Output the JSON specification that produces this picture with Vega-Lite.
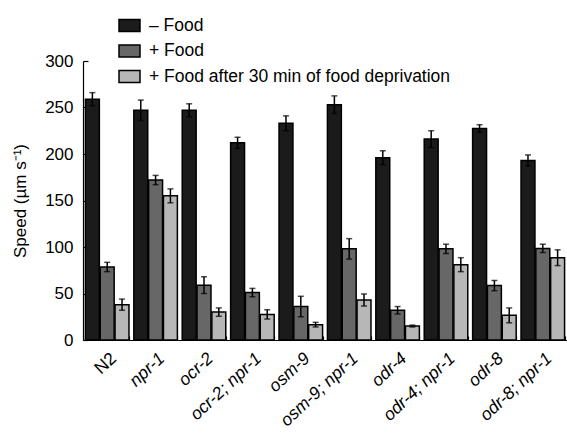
{
  "$schema": "https://vega.github.io/schema/vega-lite/v6.json",
  "width": 484,
  "height": 279,
  "autosize": {"type": "none"},
  "padding": {"left": 83, "top": 61, "right": 0, "bottom": 93},
  "background": "white",
  "config": {"font": "Liberation Sans", "view": {"stroke": null}},
  "data": {
    "values": [
      {"strain": "N2", "cond": "– Food", "value": 259, "lo": 252, "hi": 266},
      {"strain": "N2", "cond": "+ Food", "value": 78.5, "lo": 73.5, "hi": 83.5},
      {"strain": "N2", "cond": "+ Food after 30 min of food deprivation", "value": 38, "lo": 32, "hi": 44},
      {"strain": "npr-1", "cond": "– Food", "value": 247, "lo": 236, "hi": 258},
      {"strain": "npr-1", "cond": "+ Food", "value": 172, "lo": 167, "hi": 177},
      {"strain": "npr-1", "cond": "+ Food after 30 min of food deprivation", "value": 155, "lo": 147.5, "hi": 162.5},
      {"strain": "ocr-2", "cond": "– Food", "value": 247, "lo": 240, "hi": 254},
      {"strain": "ocr-2", "cond": "+ Food", "value": 59, "lo": 50, "hi": 68},
      {"strain": "ocr-2", "cond": "+ Food after 30 min of food deprivation", "value": 30, "lo": 25.5, "hi": 34.5},
      {"strain": "ocr-2; npr-1", "cond": "– Food", "value": 212, "lo": 206, "hi": 218},
      {"strain": "ocr-2; npr-1", "cond": "+ Food", "value": 51, "lo": 46.5, "hi": 55.5},
      {"strain": "ocr-2; npr-1", "cond": "+ Food after 30 min of food deprivation", "value": 27.5, "lo": 22.5, "hi": 32.5},
      {"strain": "osm-9", "cond": "– Food", "value": 233, "lo": 225, "hi": 241},
      {"strain": "osm-9", "cond": "+ Food", "value": 36, "lo": 25, "hi": 47},
      {"strain": "osm-9", "cond": "+ Food after 30 min of food deprivation", "value": 16.5, "lo": 14, "hi": 19},
      {"strain": "osm-9; npr-1", "cond": "– Food", "value": 253, "lo": 243.5, "hi": 262.5},
      {"strain": "osm-9; npr-1", "cond": "+ Food", "value": 98, "lo": 87, "hi": 109},
      {"strain": "osm-9; npr-1", "cond": "+ Food after 30 min of food deprivation", "value": 43, "lo": 36.5, "hi": 49.5},
      {"strain": "odr-4", "cond": "– Food", "value": 196, "lo": 188.5, "hi": 203.5},
      {"strain": "odr-4", "cond": "+ Food", "value": 32, "lo": 28, "hi": 36},
      {"strain": "odr-4", "cond": "+ Food after 30 min of food deprivation", "value": 15, "lo": 14, "hi": 16},
      {"strain": "odr-4; npr-1", "cond": "– Food", "value": 216, "lo": 207, "hi": 225},
      {"strain": "odr-4; npr-1", "cond": "+ Food", "value": 98, "lo": 93, "hi": 103},
      {"strain": "odr-4; npr-1", "cond": "+ Food after 30 min of food deprivation", "value": 81, "lo": 73.5, "hi": 88.5},
      {"strain": "odr-8", "cond": "– Food", "value": 227.5, "lo": 223.5, "hi": 231.5},
      {"strain": "odr-8", "cond": "+ Food", "value": 58.5, "lo": 53, "hi": 64},
      {"strain": "odr-8", "cond": "+ Food after 30 min of food deprivation", "value": 26.5, "lo": 18.5, "hi": 34.5},
      {"strain": "odr-8; npr-1", "cond": "– Food", "value": 193, "lo": 187, "hi": 199},
      {"strain": "odr-8; npr-1", "cond": "+ Food", "value": 98.5, "lo": 94, "hi": 103},
      {"strain": "odr-8; npr-1", "cond": "+ Food after 30 min of food deprivation", "value": 88.5, "lo": 80, "hi": 97}
    ]
  },
  "encoding": {
    "x": {
      "field": "strain",
      "type": "nominal",
      "sort": ["N2", "npr-1", "ocr-2", "ocr-2; npr-1", "osm-9", "osm-9; npr-1", "odr-4", "odr-4; npr-1", "odr-8", "odr-8; npr-1"],
      "scale": {"paddingInner": 0.1, "paddingOuter": 0.05},
      "axis": {
        "title": null,
        "domainColor": "black",
        "domainWidth": 1.2,
        "tickBand": "extent",
        "tickColor": "black",
        "tickSize": -4,
        "tickWidth": 1.2,
        "labelAngle": -43,
        "labelFontSize": 17.5,
        "labelColor": "black",
        "labelPadding": 13,
        "labelDx": 2,
        "labelFontStyle": {"condition": {"test": "datum.value === 'N2'", "value": "normal"}, "value": "italic"}
      }
    },
    "xOffset": {
      "field": "cond",
      "type": "nominal",
      "sort": ["– Food", "+ Food", "+ Food after 30 min of food deprivation"],
      "scale": {"paddingInner": 0.06}
    }
  },
  "layer": [
    {
      "mark": {"type": "bar", "stroke": "black", "strokeWidth": 1.5},
      "encoding": {
        "y": {
          "field": "value",
          "type": "quantitative",
          "scale": {"domain": [0, 300], "nice": false},
          "axis": {
            "title": "Speed (µm s⁻¹)",
            "titleFontSize": 17,
            "titleFontWeight": "normal",
            "titleColor": "black",
            "titlePadding": 15,
            "values": [0, 50, 100, 150, 200, 250, 300],
            "grid": false,
            "domainColor": "black",
            "domainWidth": 1.2,
            "tickColor": "black",
            "tickWidth": 1.2,
            "tickSize": -5,
            "labelFontSize": 17,
            "labelColor": "black",
            "labelPadding": 15
          }
        },
        "fill": {
          "field": "cond",
          "type": "nominal",
          "scale": {
            "domain": ["– Food", "+ Food", "+ Food after 30 min of food deprivation"],
            "range": ["#1b1b1b", "#676767", "#b7b7b7"]
          },
          "legend": {
            "title": null,
            "orient": "none",
            "legendX": 35,
            "legendY": -47,
            "symbolType": "M-1,-0.57H1V0.57H-1Z",
            "symbolSize": 441,
            "symbolStrokeColor": "black",
            "symbolStrokeWidth": 1.5,
            "labelFontSize": 17.5,
            "labelColor": "black",
            "labelOffset": 8,
            "rowPadding": 4.5,
            "labelLimit": 400
          }
        }
      }
    },
    {
      "mark": {"type": "rule", "strokeWidth": 1.5, "color": "black"},
      "encoding": {
        "y": {"field": "lo", "type": "quantitative", "title": "Speed (µm s⁻¹)"},
        "y2": {"field": "hi"}
      }
    },
    {
      "mark": {"type": "tick", "thickness": 1.5, "size": 6, "color": "black"},
      "encoding": {"y": {"field": "lo", "type": "quantitative", "title": "Speed (µm s⁻¹)"}}
    },
    {
      "mark": {"type": "tick", "thickness": 1.5, "size": 6, "color": "black"},
      "encoding": {"y": {"field": "hi", "type": "quantitative", "title": "Speed (µm s⁻¹)"}}
    }
  ]
}
